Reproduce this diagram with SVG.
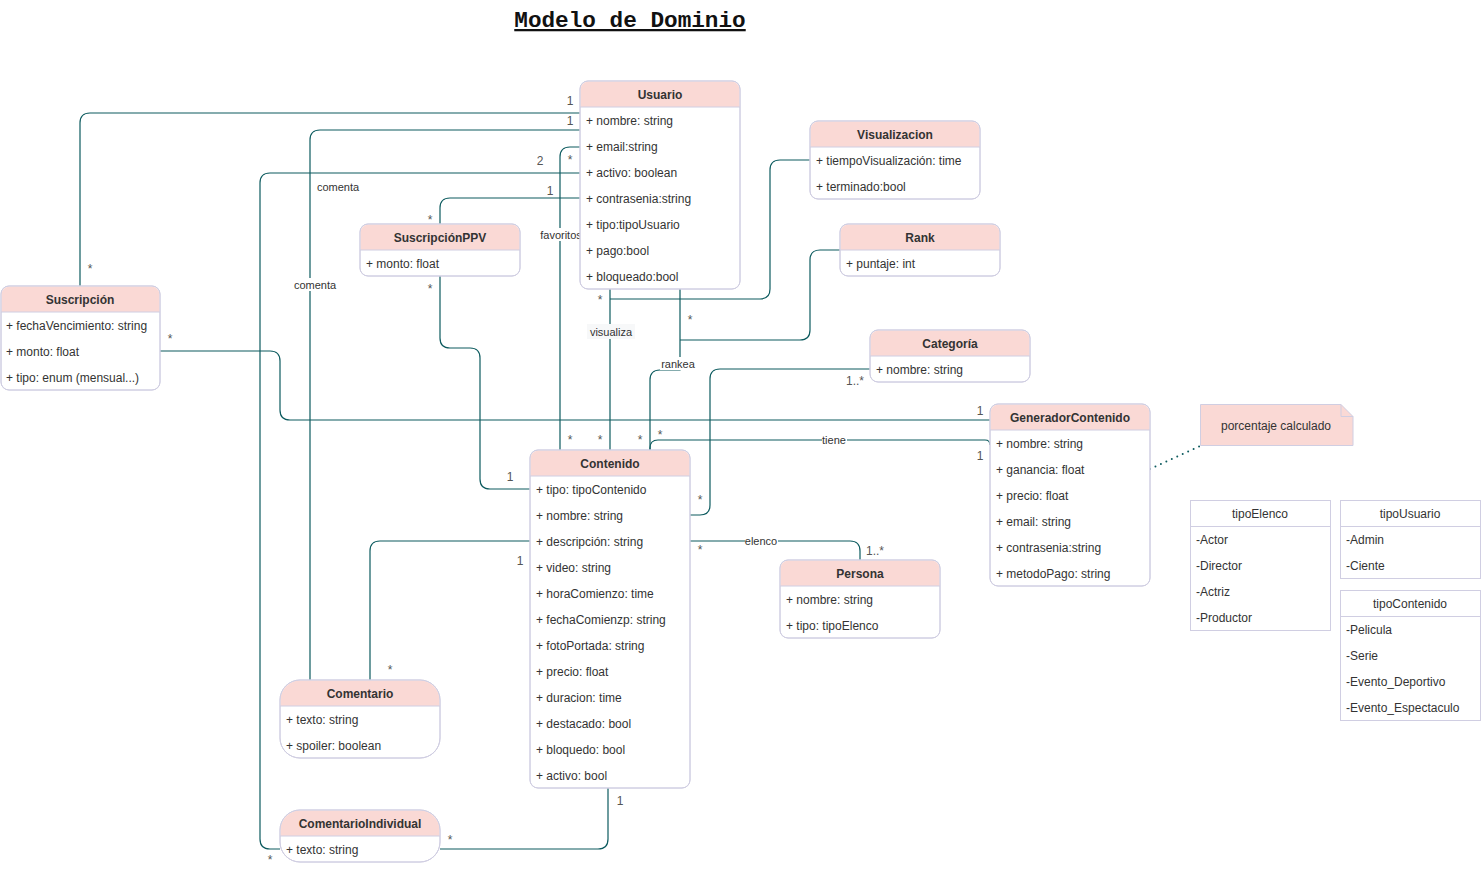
<svg xmlns="http://www.w3.org/2000/svg" width="1481" height="871" viewBox="0 0 1481 871">
<style>
.box{fill:#ffffff;stroke:#D0CEE2;stroke-width:1}
.hdr{fill:#FAD9D5;stroke:none}
.sep{stroke:#D0CEE2;stroke-width:1}
.t{font-family:"Liberation Sans",Arial,sans-serif;font-size:12px;fill:#333333}
.h{font-family:"Liberation Sans",Arial,sans-serif;font-size:12px;font-weight:bold;fill:#333333;text-anchor:middle}
.hn{font-family:"Liberation Sans",Arial,sans-serif;font-size:12px;fill:#333333;text-anchor:middle}
.e{fill:none;stroke:#0D5B5F;stroke-width:1.2}
.m{font-family:"Liberation Sans",Arial,sans-serif;font-size:12px;fill:#555555;text-anchor:middle}
.lb{font-family:"Liberation Sans",Arial,sans-serif;font-size:11px;fill:#333333;text-anchor:middle}
.bg{fill:#ffffff}
</style>
<rect width="1481" height="871" fill="#ffffff"/>
<text x="630" y="27" font-family="Liberation Mono,monospace" font-size="22.7" font-weight="bold" fill="#111111" text-anchor="middle" text-decoration="underline">Modelo de Dominio</text>

<g id="connectors">
<path class="e" d="M580,113 H90 Q80,113 80,123 V286"/>
<path class="e" d="M580,130 H320 Q310,130 310,140 V680"/>
<path class="e" d="M580,173 H270 Q260,173 260,183 V839 Q260,849 270,849 H280"/>
<path class="e" d="M580,198 H450 Q440,198 440,208 V224"/>
<path class="e" d="M580,147 H570 Q560,147 560,157 V450"/>
<path class="e" d="M440,276 V338 Q440,348 450,348 H470 Q480,348 480,358 V479 Q480,489 490,489 H530"/>
<path class="e" d="M610,289 V450"/>
<path class="e" d="M610,299 H760 Q770,299 770,289 V170 Q770,160 780,160 H810"/>
<path class="e" d="M650,450 V380 Q650,370 660,370 H680 V289"/>
<path class="e" d="M680,340 H800 Q810,340 810,330 V260 Q810,250 820,250 H840"/>
<path class="e" d="M870,369 H720 Q710,369 710,379 V505 Q710,515 700,515 H690"/>
<path class="e" d="M160,351 H270 Q280,351 280,361 V410 Q280,420 290,420 H990"/>
<path class="e" d="M650,450 V448 Q650,440 658,440 H985 Q990,440 990,445"/>
<path class="e" d="M690,541 H850 Q860,541 860,551 V560"/>
<path class="e" d="M608,788 V839 Q608,849 598,849 H440"/>
<path class="e" d="M530,541 H380 Q370,541 370,551 V680"/>
<path d="M1150,469 L1200,446" fill="none" stroke="#0D5B5F" stroke-width="2" stroke-linecap="round" stroke-dasharray="0 6"/>
<path d="M599,639 V645" stroke="#555555" stroke-width="1"/>

<rect class="bg" x="316" y="180" width="44" height="13"/>
<text class="lb" x="338" y="191">comenta</text>
<rect class="bg" x="293" y="278" width="44" height="13"/>
<text class="lb" x="315" y="289">comenta</text>
<rect class="bg" x="540" y="228" width="42" height="13"/>
<text class="lb" x="561" y="239">favoritos</text>
<rect fill="#f7f8f9" x="587" y="324" width="48" height="15"/>
<text class="lb" x="611" y="336" font-size="12">visualiza</text>
<rect class="bg" x="660" y="357" width="36" height="13"/>
<text class="lb" x="678" y="368">rankea</text>
<rect class="bg" x="822" y="434" width="25" height="12"/>
<text class="lb" x="834" y="444">tiene</text>
<rect class="bg" x="745" y="535" width="33" height="12"/>
<text class="lb" x="761" y="545">elenco</text>

<text class="m" x="570" y="105">1</text>
<text class="m" x="570" y="125">1</text>
<text class="m" x="540" y="165">2</text>
<text class="m" x="570" y="164">*</text>
<text class="m" x="550" y="195">1</text>
<text class="m" x="430" y="224">*</text>
<text class="m" x="90" y="273">*</text>
<text class="m" x="430" y="293">*</text>
<text class="m" x="170" y="343">*</text>
<text class="m" x="600" y="304">*</text>
<text class="m" x="690" y="324">*</text>
<text class="m" x="855" y="385">1..*</text>
<text class="m" x="980" y="415">1</text>
<text class="m" x="660" y="439">*</text>
<text class="m" x="570" y="444">*</text>
<text class="m" x="600" y="444">*</text>
<text class="m" x="640" y="444">*</text>
<text class="m" x="980" y="460">1</text>
<text class="m" x="510" y="481">1</text>
<text class="m" x="700" y="504">*</text>
<text class="m" x="700" y="554">*</text>
<text class="m" x="875" y="555">1..*</text>
<text class="m" x="520" y="565">1</text>
<text class="m" x="390" y="674">*</text>
<text class="m" x="620" y="805">1</text>
<text class="m" x="450" y="844">*</text>
<text class="m" x="270" y="864">*</text>
</g>

<g id="Usuario">
<rect class="box" x="580" y="81" width="160" height="208" rx="8"/>
<path class="hdr" d="M580.5,107 V89 A8,8 0 0 1 588,81.5 H732 A8,8 0 0 1 739.5,89 V107 Z"/>
<rect x="580" y="81" width="160" height="208" rx="8" fill="none" stroke="#D0CEE2"/>
<line class="sep" x1="580" y1="107" x2="740" y2="107"/>
<text class="h" x="660" y="99">Usuario</text>
<text class="t" x="586" y="125">+ nombre: string</text>
<text class="t" x="586" y="151">+ email:string</text>
<text class="t" x="586" y="177">+ activo: boolean</text>
<text class="t" x="586" y="203">+ contrasenia:string</text>
<text class="t" x="586" y="229">+ tipo:tipoUsuario</text>
<text class="t" x="586" y="255">+ pago:bool</text>
<text class="t" x="586" y="281">+ bloqueado:bool</text>
</g>

<g id="Visualizacion">
<rect class="box" x="810" y="121" width="170" height="78" rx="8"/>
<path class="hdr" d="M810.5,147 V129 A8,8 0 0 1 818,121.5 H972 A8,8 0 0 1 979.5,129 V147 Z"/>
<rect x="810" y="121" width="170" height="78" rx="8" fill="none" stroke="#D0CEE2"/>
<line class="sep" x1="810" y1="147" x2="980" y2="147"/>
<text class="h" x="895" y="139">Visualizacion</text>
<text class="t" x="816" y="165">+ tiempoVisualización: time</text>
<text class="t" x="816" y="191">+ terminado:bool</text>
</g>

<g id="SuscripcionPPV">
<rect class="box" x="360" y="224" width="160" height="52" rx="8"/>
<path class="hdr" d="M360.5,250 V232 A8,8 0 0 1 368,224.5 H512 A8,8 0 0 1 519.5,232 V250 Z"/>
<rect x="360" y="224" width="160" height="52" rx="8" fill="none" stroke="#D0CEE2"/>
<line class="sep" x1="360" y1="250" x2="520" y2="250"/>
<text class="h" x="440" y="242">SuscripciónPPV</text>
<text class="t" x="366" y="268">+ monto: float</text>
</g>

<g id="Rank">
<rect class="box" x="840" y="224" width="160" height="52" rx="8"/>
<path class="hdr" d="M840.5,250 V232 A8,8 0 0 1 848,224.5 H992 A8,8 0 0 1 999.5,232 V250 Z"/>
<rect x="840" y="224" width="160" height="52" rx="8" fill="none" stroke="#D0CEE2"/>
<line class="sep" x1="840" y1="250" x2="1000" y2="250"/>
<text class="h" x="920" y="242">Rank</text>
<text class="t" x="846" y="268">+ puntaje: int</text>
</g>

<g id="Suscripcion">
<rect class="box" x="1" y="286" width="159" height="104" rx="8"/>
<path class="hdr" d="M1.5,312 V294 A8,8 0 0 1 9,286.5 H152 A8,8 0 0 1 159.5,294 V312 Z"/>
<rect x="1" y="286" width="159" height="104" rx="8" fill="none" stroke="#D0CEE2"/>
<line class="sep" x1="1" y1="312" x2="160" y2="312"/>
<text class="h" x="80" y="304">Suscripción</text>
<text class="t" x="6" y="330">+ fechaVencimiento: string</text>
<text class="t" x="6" y="356">+ monto: float</text>
<text class="t" x="6" y="382">+ tipo: enum (mensual...)</text>
</g>

<g id="Categoria">
<rect class="box" x="870" y="330" width="160" height="52" rx="8"/>
<path class="hdr" d="M870.5,356 V338 A8,8 0 0 1 878,330.5 H1022 A8,8 0 0 1 1029.5,338 V356 Z"/>
<rect x="870" y="330" width="160" height="52" rx="8" fill="none" stroke="#D0CEE2"/>
<line class="sep" x1="870" y1="356" x2="1030" y2="356"/>
<text class="h" x="950" y="348">Categoría</text>
<text class="t" x="876" y="374">+ nombre: string</text>
</g>

<g id="GeneradorContenido">
<rect class="box" x="990" y="404" width="160" height="182" rx="8"/>
<path class="hdr" d="M990.5,430 V412 A8,8 0 0 1 998,404.5 H1142 A8,8 0 0 1 1149.5,412 V430 Z"/>
<rect x="990" y="404" width="160" height="182" rx="8" fill="none" stroke="#D0CEE2"/>
<line class="sep" x1="990" y1="430" x2="1150" y2="430"/>
<text class="h" x="1070" y="422">GeneradorContenido</text>
<text class="t" x="996" y="448">+ nombre: string</text>
<text class="t" x="996" y="474">+ ganancia: float</text>
<text class="t" x="996" y="500">+ precio: float</text>
<text class="t" x="996" y="526">+ email: string</text>
<text class="t" x="996" y="552">+ contrasenia:string</text>
<text class="t" x="996" y="578">+ metodoPago: string</text>
</g>

<g id="Contenido">
<rect class="box" x="530" y="450" width="160" height="338" rx="8"/>
<path class="hdr" d="M530.5,476 V458 A8,8 0 0 1 538,450.5 H682 A8,8 0 0 1 689.5,458 V476 Z"/>
<rect x="530" y="450" width="160" height="338" rx="8" fill="none" stroke="#D0CEE2"/>
<line class="sep" x1="530" y1="476" x2="690" y2="476"/>
<text class="h" x="610" y="468">Contenido</text>
<text class="t" x="536" y="494">+ tipo: tipoContenido</text>
<text class="t" x="536" y="520">+ nombre: string</text>
<text class="t" x="536" y="546">+ descripción: string</text>
<text class="t" x="536" y="572">+ video: string</text>
<text class="t" x="536" y="598">+ horaComienzo: time</text>
<text class="t" x="536" y="624">+ fechaComienzp: string</text>
<text class="t" x="536" y="650">+ fotoPortada: string</text>
<text class="t" x="536" y="676">+ precio: float</text>
<text class="t" x="536" y="702">+ duracion: time</text>
<text class="t" x="536" y="728">+ destacado: bool</text>
<text class="t" x="536" y="754">+ bloquedo: bool</text>
<text class="t" x="536" y="780">+ activo: bool</text>
</g>

<g id="Persona">
<rect class="box" x="780" y="560" width="160" height="78" rx="8"/>
<path class="hdr" d="M780.5,586 V568 A8,8 0 0 1 788,560.5 H932 A8,8 0 0 1 939.5,568 V586 Z"/>
<rect x="780" y="560" width="160" height="78" rx="8" fill="none" stroke="#D0CEE2"/>
<line class="sep" x1="780" y1="586" x2="940" y2="586"/>
<text class="h" x="860" y="578">Persona</text>
<text class="t" x="786" y="604">+ nombre: string</text>
<text class="t" x="786" y="630">+ tipo: tipoElenco</text>
</g>

<g id="Comentario">
<rect class="box" x="280" y="680" width="160" height="78" rx="20"/>
<path class="hdr" d="M280.5,706 V700 A19.5,19.5 0 0 1 300,680.5 H420 A19.5,19.5 0 0 1 439.5,700 V706 Z"/>
<rect x="280" y="680" width="160" height="78" rx="20" fill="none" stroke="#D0CEE2"/>
<line class="sep" x1="280" y1="706" x2="440" y2="706"/>
<text class="h" x="360" y="698">Comentario</text>
<text class="t" x="286" y="724">+ texto: string</text>
<text class="t" x="286" y="750">+ spoiler: boolean</text>
</g>

<g id="ComentarioIndividual">
<rect class="box" x="280" y="810" width="160" height="52" rx="20"/>
<path class="hdr" d="M280.5,836 V830 A19.5,19.5 0 0 1 300,810.5 H420 A19.5,19.5 0 0 1 439.5,830 V836 Z"/>
<rect x="280" y="810" width="160" height="52" rx="20" fill="none" stroke="#D0CEE2"/>
<line class="sep" x1="280" y1="836" x2="440" y2="836"/>
<text class="h" x="360" y="828">ComentarioIndividual</text>
<text class="t" x="286" y="854">+ texto: string</text>
</g>

<g id="nota">
<path d="M1200.5,404.5 H1341 L1353,416.5 V445.5 H1200.5 Z" fill="#FAD9D5" stroke="#D0CEE2"/>
<path d="M1341,404.5 V416.5 H1353" fill="none" stroke="#D0CEE2"/>
<text class="hn" x="1276" y="430">porcentaje calculado</text>
</g>

<g id="tipoElenco">
<rect class="box" x="1190.5" y="500.5" width="140" height="130"/>
<line class="sep" x1="1190.5" y1="526.5" x2="1330.5" y2="526.5"/>
<text class="hn" x="1260" y="518">tipoElenco</text>
<text class="t" x="1196" y="544">-Actor</text>
<text class="t" x="1196" y="570">-Director</text>
<text class="t" x="1196" y="596">-Actriz</text>
<text class="t" x="1196" y="622">-Productor</text>
</g>

<g id="tipoUsuario">
<rect class="box" x="1340.5" y="500.5" width="140" height="78"/>
<line class="sep" x1="1340.5" y1="526.5" x2="1480.5" y2="526.5"/>
<text class="hn" x="1410" y="518">tipoUsuario</text>
<text class="t" x="1346" y="544">-Admin</text>
<text class="t" x="1346" y="570">-Ciente</text>
</g>

<g id="tipoContenido">
<rect class="box" x="1340.5" y="590.5" width="140" height="130"/>
<line class="sep" x1="1340.5" y1="616.5" x2="1480.5" y2="616.5"/>
<text class="hn" x="1410" y="608">tipoContenido</text>
<text class="t" x="1346" y="634">-Pelicula</text>
<text class="t" x="1346" y="660">-Serie</text>
<text class="t" x="1346" y="686">-Evento_Deportivo</text>
<text class="t" x="1346" y="712">-Evento_Espectaculo</text>
</g>
</svg>
